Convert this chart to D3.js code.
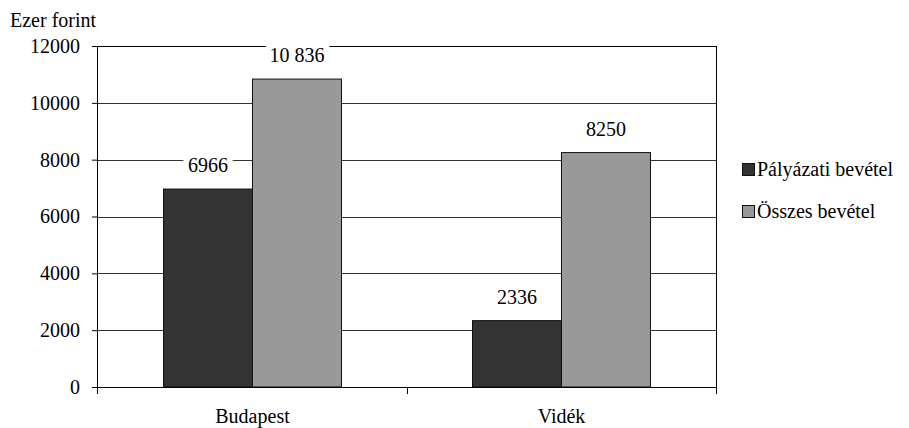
<!DOCTYPE html>
<html>
<head>
<meta charset="utf-8">
<script src="https://cdn.jsdelivr.net/npm/d3@7"></script>
<style>
  body { margin: 0; background: #fff; }
</style>
</head>
<body>
<svg id="chart" width="909" height="428"></svg>
<script>
// --- data ---
const categories = ["Budapest", "Vidék"];
const seriesNames = ["Pályázati bevétel", "Összes bevétel"];
const palyazati = [6966, 2336];
const osszes = [10836, 8250];
const valueLabels = [["6966", "2336"], ["10 836", "8250"]];
const yTicks = [0, 2000, 4000, 6000, 8000, 10000, 12000];
const colors = ["#333333", "#999999"];

const FONT = '"Liberation Serif"';
const FS = 20;

const svg = d3.select("#chart"),
    margin = { top: 46, right: 193, bottom: 41, left: 98 },
    width = +svg.attr("width") - margin.left - margin.right,
    height = +svg.attr("height") - margin.top - margin.bottom;

const g = svg.append("g")
    .attr("transform", `translate(${margin.left},${margin.top})`);

const x0 = d3.scaleBand()
    .domain(categories)
    .range([0, width])
    .paddingInner(0)
    .paddingOuter(0);

const x1 = d3.scaleBand()
    .domain(seriesNames)
    .range([x0.bandwidth() * 0.212, x0.bandwidth() * 0.788]);

const y = d3.scaleLinear()
    .domain([0, 12000])
    .range([height, 0]);

// gridlines
g.selectAll(".grid")
    .data(yTicks.slice(1))
    .enter()
    .append("line")
    .attr("x1", 0)
    .attr("x2", width)
    .attr("y1", d => Math.round(y(d)) + 0.5)
    .attr("y2", d => Math.round(y(d)) + 0.5)
    .attr("stroke", d => d === 12000 ? "#000" : "#333")
    .attr("stroke-width", 1);

// right border
g.append("line")
    .attr("x1", width + 0.5).attr("x2", width + 0.5)
    .attr("y1", 0).attr("y2", height)
    .attr("stroke", "#000");

// bars
const rows = categories.map((c, i) => ({ cat: c, vals: [palyazati[i], osszes[i]] }));

const groups = g.selectAll(".grp")
    .data(rows)
    .enter()
    .append("g")
    .attr("transform", d => `translate(${x0(d.cat)},0)`);

groups.selectAll("rect")
    .data(d => d.vals.map((v, j) => ({ s: seriesNames[j], v, j })))
    .enter()
    .append("rect")
    .attr("x", d => x1(d.s))
    .attr("y", d => y(d.v))
    .attr("width", x1.bandwidth())
    .attr("height", d => height - y(d.v))
    .attr("fill", d => colors[d.j])
    .attr("stroke", "#111")
    .attr("stroke-width", 1);

// value labels, white halo hides the gridlines behind them
groups.selectAll(".lbl")
    .data((d, i) => d.vals.map((v, j) => ({ s: seriesNames[j], v, txt: valueLabels[j][i] })))
    .enter()
    .append("text")
    .attr("class", "lbl")
    .attr("x", d => x1(d.s) + x1.bandwidth() / 2)
    .attr("y", d => y(d.v) - 17)
    .attr("text-anchor", "middle")
    .style("font-family", FONT)
    .style("font-size", FS + "px")
    .style("paint-order", "stroke")
    .style("stroke", "#fff")
    .style("stroke-width", "12px")
    .style("stroke-linejoin", "miter")
    .text(d => d.txt);

// y axis
const yAxis = g.append("g")
    .call(d3.axisLeft(y).tickValues(yTicks).tickSize(6).tickPadding(12).tickFormat(d3.format("d")));
yAxis.attr("font-family", null);
yAxis.select(".domain").attr("stroke", "#000").attr("d", `M-0.5,${height + 7}V0`);
yAxis.selectAll("text").attr("fill", "#000")
    .style("font-family", FONT).style("font-size", FS + "px");
yAxis.selectAll("line").attr("stroke", "#000");

// x axis
const xAxis = g.append("g")
    .attr("transform", `translate(0,${height})`)
    .call(d3.axisBottom(x0).tickSize(0).tickPadding(22));
xAxis.attr("font-family", null);
xAxis.select(".domain").attr("stroke", "#000").attr("d", `M0,0.5H${width}`);
xAxis.selectAll("text").attr("fill", "#000")
    .style("font-family", FONT).style("font-size", FS + "px");
xAxis.selectAll(".sep")
    .data([x0.bandwidth(), width])
    .enter()
    .append("line")
    .attr("x1", d => d + 0.5).attr("x2", d => d + 0.5)
    .attr("y1", 0).attr("y2", 7)
    .attr("stroke", "#000");

// unit label
svg.append("text")
    .attr("x", 10)
    .attr("y", 27)
    .style("font-family", FONT)
    .style("font-size", FS + "px")
    .text("Ezer forint");

// legend
const legend = svg.append("g")
    .attr("transform", "translate(742,163)");

legend.selectAll("rect")
    .data(seriesNames)
    .enter()
    .append("rect")
    .attr("x", 0.5)
    .attr("y", (d, i) => i * 42 + 0.5)
    .attr("width", 12)
    .attr("height", 12)
    .attr("fill", (d, i) => colors[i])
    .attr("stroke", "#111");

legend.selectAll("text")
    .data(seriesNames)
    .enter()
    .append("text")
    .attr("x", 15)
    .attr("y", (d, i) => i * 42 + 13)
    .style("font-family", FONT)
    .style("font-size", FS + "px")
    .text(d => d);
</script>
</body>
</html>
